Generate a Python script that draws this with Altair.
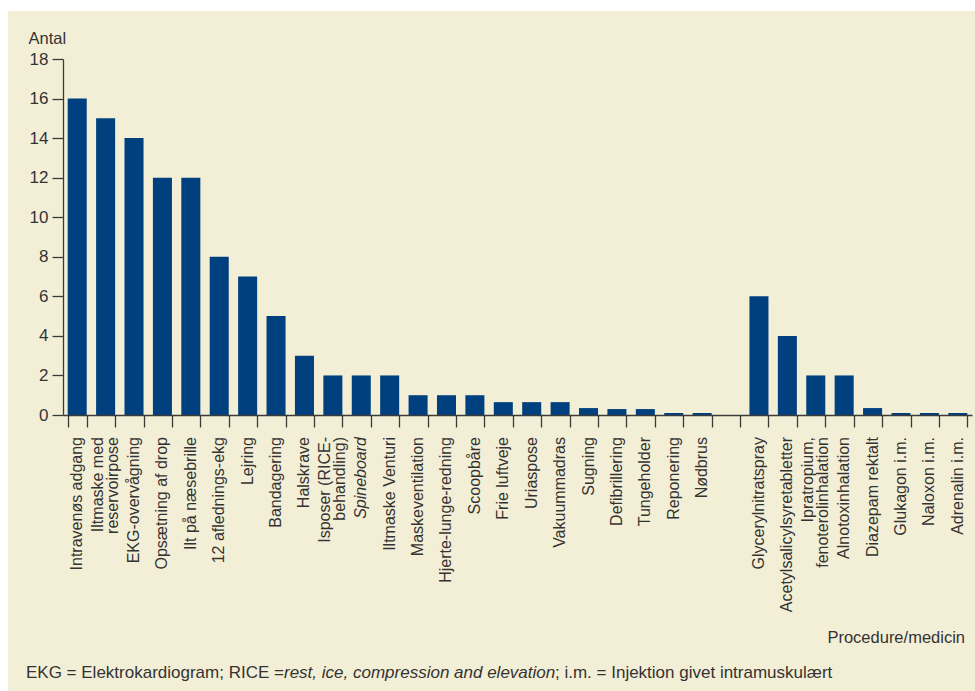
import altair as alt
import pandas as pd

# ---- data ----
categories = [
    "Intravenøs adgang", "Iltmaske med|reservoirpose", "EKG-overvågning",
    "Opsætning af drop", "Ilt på næsebrille", "12 aflednings-ekg", "Lejring",
    "Bandagering", "Halskrave", "Isposer (RICE-|behandling)", "Spineboard",
    "Iltmaske Venturi", "Maskeventilation", "Hjerte-lunge-redning", "Scoopbåre",
    "Frie luftveje", "Uriaspose", "Vakuummadras", "Sugning", "Defibrillering",
    "Tungeholder", "Reponering", "Nødbrus", " ",
    "Glycerylnitratspray", "Acetylsalicylsyretabletter",
    "Ipratropium,|fenoterolinhalation", "Alnotoxinhalation", "Diazepam rektalt",
    "Glukagon i.m.", "Naloxon i.m.", "Adrenalin i.m.",
]
values = [
    16, 15, 14, 12, 12, 8, 7, 5, 3, 2, 2, 2, 1, 1, 1,
    0.65, 0.65, 0.65, 0.35, 0.3, 0.3, 0.1, 0.1, None,
    6, 4, 2, 2, 0.35, 0.1, 0.1, 0.1,
]
italic_labels = ["Spineboard"]
y_ticks = [0, 2, 4, 6, 8, 10, 12, 14, 16, 18]
y_title = "Antal"
x_title = "Procedure/medicin"
footnote_parts = [
    "EKG = Elektrokardiogram; RICE =",
    "rest, ice, compression and elevation",
    "; i.m. = Injektion givet intramuskulært",
]
footnote_styles = ["normal", "italic", "normal"]

FONT = "Liberation Sans"
BAR = "#00407f"
BEIGE = "#f3efd6"
AX = "#3a3a3a"
TXT = "#333333"

df = pd.DataFrame({"kat": categories, "antal": values})
two_line = [c for c in categories if "|" in c]
one_line = [c for c in categories if "|" not in c and c.strip() and c not in italic_labels]

x_scale = alt.Scale(domain=categories, paddingInner=0.33, paddingOuter=0.165)

bg = alt.Chart(pd.DataFrame({"a": [0]})).mark_rect(color=BEIGE).encode(
    x=alt.value(-55), x2=alt.value(912), y=alt.value(-48), y2=alt.value(632)
)

bars = alt.Chart(df).mark_bar(color=BAR).encode(
    x=alt.X(
        "kat:N",
        scale=x_scale,
        title=None,
        axis=alt.Axis(
            labels=False, title=None,
            tickBand="extent", tickSize=12, tickColor=AX, tickWidth=1.3, ticks=True,
            domainColor=AX, domainWidth=1.3, grid=False, zindex=1,
        ),
    ),
    y=alt.Y(
        "antal:Q",
        scale=alt.Scale(domain=[0, 18], nice=False, zero=True),
        axis=alt.Axis(
            title=y_title, titleAngle=0, titleX=-35, titleY=-16,
            titleAlign="left", titleBaseline="alphabetic",
            titleFont=FONT, titleFontSize=16.5, titleFontWeight="normal", titleColor=TXT,
            values=y_ticks, labelFont=FONT, labelFontSize=17, labelColor=TXT,
            labelPadding=4, tickSize=11, tickColor=AX, tickWidth=1.3,
            domainColor=AX, domainWidth=1.3, grid=False, zindex=1,
        ),
    ),
)


def label_layer(cats, baseline, style):
    return alt.Chart(df).transform_filter(
        alt.FieldOneOfPredicate(field="kat", oneOf=cats)
    ).mark_text(
        angle=270, align="right", baseline=baseline, font=FONT, fontSize=16,
        fontStyle=style, color=TXT, lineBreak="|", lineHeight=15.5,
    ).encode(
        x=alt.X("kat:N", scale=x_scale, title=None),
        y=alt.value(378),
        text="kat:N",
    )


lab1 = label_layer(one_line, "middle", "normal")
lab2 = label_layer(italic_labels, "middle", "italic")
lab3 = label_layer(two_line, "bottom", "normal")

xt = alt.Chart(pd.DataFrame({"t": [x_title]})).mark_text(
    align="right", baseline="alphabetic", font=FONT, fontSize=16.5, color=TXT
).encode(x=alt.value(902), y=alt.value(584), text="t:N")

fn_df = pd.DataFrame({"t": footnote_parts, "s": footnote_styles})
x_offsets = [-37, 221, 492]
layers = [bg, bars, lab1, lab2, lab3, xt]
for i, (t, s) in enumerate(zip(footnote_parts, footnote_styles)):
    layers.append(
        alt.Chart(fn_df.iloc[[i]]).mark_text(
            align="left", baseline="alphabetic", font=FONT, fontSize=17,
            fontStyle=s, color=TXT,
        ).encode(x=alt.value(x_offsets[i]), y=alt.value(619), text="t:N")
    )

chart = alt.layer(*layers).properties(
    width=909, height=356,
    padding={"left": 63, "top": 59, "right": 3, "bottom": 276},
    autosize=alt.AutoSizeParams(type="none"),
    background="white",
).configure_view(stroke=None)

chart.save("out.html", embed_options={"renderer": "svg", "actions": False})
